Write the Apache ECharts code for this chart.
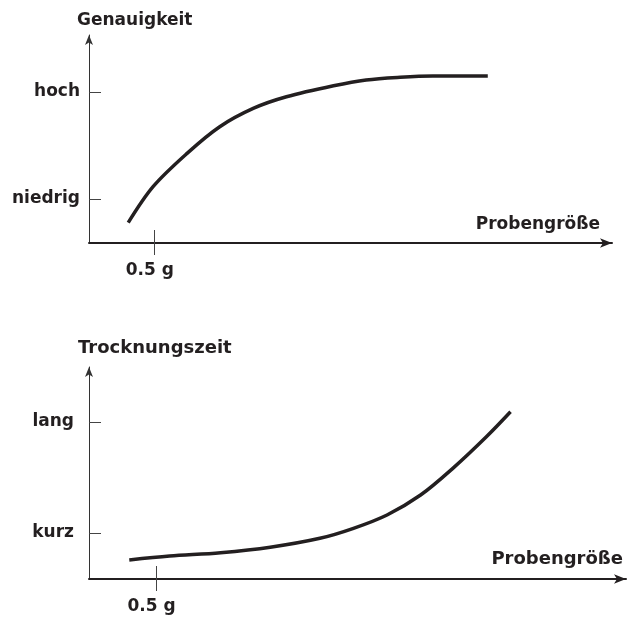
<!DOCTYPE html>
<html>
<head>
<meta charset="utf-8">
<script src="https://cdn.jsdelivr.net/npm/echarts@6/dist/echarts.min.js"></script>
<style>
  html, body { margin: 0; padding: 0; background: #fff; }
  #chart { width: 632px; height: 619px; }
</style>
</head>
<body>
<div id="chart"></div>
<script>
// Sample size in grams (x) for both panels
const sampleTicks = [0.5];
const sampleTickLabel = '0.5 g';

// Upper panel: accuracy vs. sample size (relative scale 0-100)
const accuracyLevelValues = [21.2, 72.6];
const accuracyLevelNames = ['niedrig', 'hoch'];
const accuracyX = [0.30, 0.49, 0.75, 1.00, 1.26, 1.51, 1.87, 2.12, 2.38, 2.63, 3.05];
const accuracyY = [9.8, 27.1, 43.1, 55.9, 64.8, 70.3, 75.6, 78.4, 79.7, 80.3, 80.3];

// Lower panel: drying time vs. sample size (relative scale 0-100)
const dryingLevelValues = [21.7, 74.1];
const dryingLevelNames = ['kurz', 'lang'];
const dryingX = [0.30, 0.60, 0.98, 1.35, 1.72, 1.97, 2.22, 2.47, 2.71, 2.96, 3.14];
const dryingY = [9.0, 10.8, 12.4, 15.0, 19.2, 23.9, 30.2, 39.6, 52.2, 67.1, 78.9];

const INK = '#231f20';
const FONT = '"DejaVu Sans", sans-serif';

function zip(xs, ys) { return xs.map((x, i) => [x, ys[i]]); }

function levelFormatter(values, names) {
  return function (v) {
    for (let i = 0; i < values.length; i++) {
      if (Math.abs(values[i] - v) < 1e-6) return names[i];
    }
    return '';
  };
}

function mainXAxis(gridIndex, labelSize) {
  return {
    type: 'value', gridIndex: gridIndex, position: 'bottom', min: 0, max: 4,
    axisLine: { show: true, lineStyle: { color: INK, width: 2 },
      symbol: ['none', 'arrow'], symbolSize: [7, 12] },
    axisTick: { show: true, inside: false, length: 12, customValues: sampleTicks,
      lineStyle: { color: '#444', width: 1 } },
    axisLabel: { show: true, customValues: sampleTicks, formatter: () => sampleTickLabel,
      margin: 19, padding: [0, 9, 0, 0],
      color: INK, fontFamily: FONT, fontWeight: 'bold', fontSize: labelSize },
    splitLine: { show: false }
  };
}

// Same scale again, only to draw the upper half of the crossing tick
function innerTickXAxis(gridIndex) {
  return {
    type: 'value', gridIndex: gridIndex, position: 'bottom', offset: 0, min: 0, max: 4,
    axisLine: { show: false },
    axisTick: { show: true, inside: true, length: 13, customValues: sampleTicks,
      lineStyle: { color: '#444', width: 1 } },
    axisLabel: { show: false },
    splitLine: { show: false }
  };
}

function levelYAxis(gridIndex, values, names, margin, labelSize) {
  return {
    type: 'value', gridIndex: gridIndex, min: 0, max: 100,
    axisLine: { show: true, lineStyle: { color: '#333', width: 1 },
      symbol: ['none', 'arrow'], symbolSize: [6, 10] },
    axisTick: { show: true, inside: true, length: 12, customValues: values,
      lineStyle: { color: '#444', width: 1 } },
    axisLabel: { show: true, customValues: values, formatter: levelFormatter(values, names),
      margin: margin, color: INK, fontFamily: FONT, fontWeight: 'bold', fontSize: labelSize },
    splitLine: { show: false }
  };
}

function caption(text, x, y, align, size) {
  return {
    type: 'text', x: x, y: y, silent: true,
    style: { text: text, fill: INK, font: 'bold ' + size + 'px ' + FONT,
      textAlign: align, textVerticalAlign: 'middle' }
  };
}

function curve(name, xIndex, yIndex, xs, ys) {
  return {
    type: 'line', name: name, xAxisIndex: xIndex, yAxisIndex: yIndex,
    data: zip(xs, ys), smooth: 0.33,
    showSymbol: false, symbol: 'none',
    lineStyle: { color: INK, width: 3.5 }
  };
}

const chart = echarts.init(document.getElementById('chart'), null, { renderer: 'canvas' });

chart.setOption({
  backgroundColor: '#ffffff',
  animation: false,
  grid: [
    { left: 89, top: 35, width: 523, height: 208 },
    { left: 89, top: 367, width: 537, height: 212 }
  ],
  xAxis: [
    mainXAxis(0, 17),
    innerTickXAxis(0),
    mainXAxis(1, 17),
    innerTickXAxis(1)
  ],
  yAxis: [
    levelYAxis(0, accuracyLevelValues, accuracyLevelNames, 9, 17),
    levelYAxis(1, dryingLevelValues, dryingLevelNames, 15, 17)
  ],
  series: [
    curve('Genauigkeit', 0, 0, accuracyX, accuracyY),
    curve('Trocknungszeit', 2, 1, dryingX, dryingY)
  ],
  graphic: [
    caption('Genauigkeit', 77, 21, 'left', 17),
    caption('Probengröße', 600, 225, 'right', 17),
    caption('Trocknungszeit', 78, 348, 'left', 18),
    caption('Probengröße', 623, 559, 'right', 18)
  ]
});
</script>
</body>
</html>
